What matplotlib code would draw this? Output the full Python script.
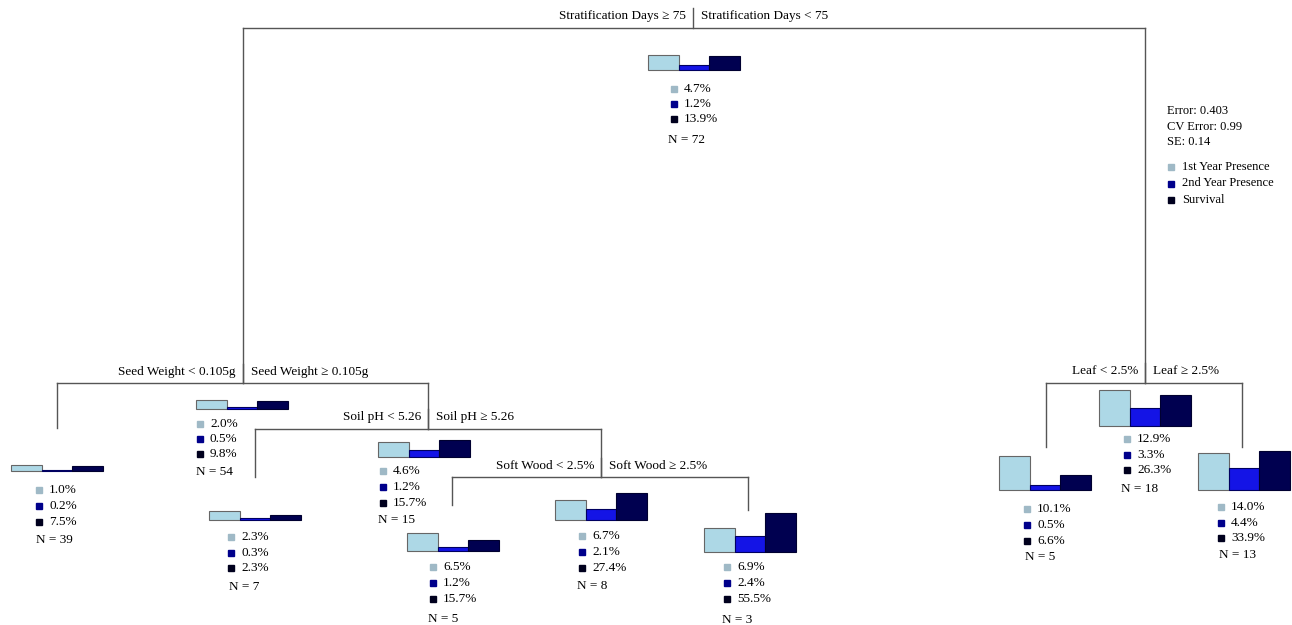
import matplotlib.pyplot as plt

# node values (percent) and sizes, read from the tree
first_year = [4.7, 2.0, 1.0, 2.3, 4.6, 6.5, 6.7, 6.9, 12.9, 10.1, 14.0]
second_year = [1.2, 0.5, 0.2, 0.3, 1.2, 1.2, 2.1, 2.4, 3.3, 0.5, 4.4]
survival = [13.9, 9.8, 7.5, 2.3, 15.7, 15.7, 27.4, 55.5, 26.3, 6.6, 33.9]
node_n = [72, 54, 39, 7, 15, 5, 8, 3, 18, 5, 13]
# bar heights as drawn in the node glyphs
h_first = [15, 9, 6, 9, 15, 18, 20, 24, 36, 34, 37]
h_second = [5, 2, 1, 2, 7, 4, 11, 16, 18, 5, 22]
h_surv = [14, 8, 5, 5, 17, 11, 27, 39, 31, 15, 39]

splits = [("Stratification Days \u2265 75", "Stratification Days < 75"),
          ("Seed Weight < 0.105g", "Seed Weight \u2265 0.105g"),
          ("Soil pH < 5.26", "Soil pH \u2265 5.26"),
          ("Soft Wood < 2.5%", "Soft Wood \u2265 2.5%"),
          ("Leaf < 2.5%", "Leaf \u2265 2.5%")]
legend_labels = ["1st Year Presence", "2nd Year Presence", "Survival"]
fit_text = ["Error: 0.403", "CV Error: 0.99", "SE: 0.14"]

# layout: bar-left x, bar-bottom y, square x, first text y, line gap, N x, N y
layout = [(648, 70, 674, 89, 15, 668, 140),
          (196, 409, 200, 424, 15, 196, 472),
          (11, 471, 39, 490, 16, 36, 540),
          (209, 520, 231, 537, 15.5, 229, 587),
          (378, 457, 383, 471, 16, 378, 520),
          (407, 551, 433, 567, 16, 428, 619),
          (555, 520, 582, 536, 16, 577, 586),
          (704, 552, 727, 567, 16, 722, 620),
          (1099, 426, 1127, 439, 15.5, 1121, 489),
          (999, 490, 1027, 509, 16, 1025, 557),
          (1198, 490, 1221, 507, 15.5, 1219, 555)]
# split: x of tick, label y, horizontal y, left x, right x, left end y, right end y
split_pos = [(693, 16, 28, 243, 1145, 383, 383),
             (243, 372, 383, 57, 428, 428, 429),
             (428, 417, 429, 255, 601, 477, 477),
             (601, 466, 477, 452, 748, 505, 510),
             (1145, 371, 383, 1046, 1242, 447, 447)]

bar_cols = ["#add8e6", "#1414e6", "#000050"]
sq_cols = ["#9fb9c6", "#00008b", "#00001e"]
line_col = "#555555"
font = "Liberation Serif"

fig = plt.figure(figsize=(12.92, 6.25), dpi=100)
ax = fig.add_axes([0, 0, 1, 1])
ax.set_xlim(0, 1292)
ax.set_ylim(625, 0)
ax.axis("off")

for (lab_l, lab_r), (tx, ly, hy, lx, rx, ley, rey) in zip(splits, split_pos):
    ax.plot([tx, tx], [ly - 8, hy], color=line_col, lw=1)
    ax.plot([lx, rx], [hy, hy], color=line_col, lw=1)
    ax.plot([lx, lx], [hy, ley], color=line_col, lw=1)
    ax.plot([rx, rx], [hy, rey], color=line_col, lw=1)
    ax.text(tx - 7, ly, lab_l, ha="right", va="center", fontsize=9.5, family=font)
    ax.text(tx + 8, ly, lab_r, ha="left", va="center", fontsize=9.5, family=font)

bw = 30.7
for i, (bx, by, sx, ty, gap, nx, ny) in enumerate(layout):
    heights = [h_first[i], h_second[i], h_surv[i]]
    xs = [bx + bw * (k + 0.5) for k in range(3)]
    ax.bar(xs, heights, width=bw, bottom=[by - h for h in heights],
           color=bar_cols, edgecolor=["#666666", "#000060", "#000030"], linewidth=0.8)
    vals = [first_year[i], second_year[i], survival[i]]
    for k, v in enumerate(vals):
        y = ty + gap * k
        ax.plot(sx, y, marker="s", ms=4, color=sq_cols[k], mec=sq_cols[k])
        ax.text(sx + 10, y, "%.1f%%" % v, ha="left", va="center", fontsize=9.5, family=font)
    ax.text(nx, ny, "N = %d" % node_n[i], ha="left", va="center", fontsize=9.5, family=font)

for k, t in enumerate(fit_text):
    ax.text(1167, 111 + 15.5 * k, t, ha="left", va="center", fontsize=9, family=font)
for k, t in enumerate(legend_labels):
    y = 167 + 16.5 * k
    ax.plot(1171, y, marker="s", ms=4, color=sq_cols[k], mec=sq_cols[k])
    ax.text(1182, y, t, ha="left", va="center", fontsize=9, family=font)

fig.savefig("out.png", dpi=100)
